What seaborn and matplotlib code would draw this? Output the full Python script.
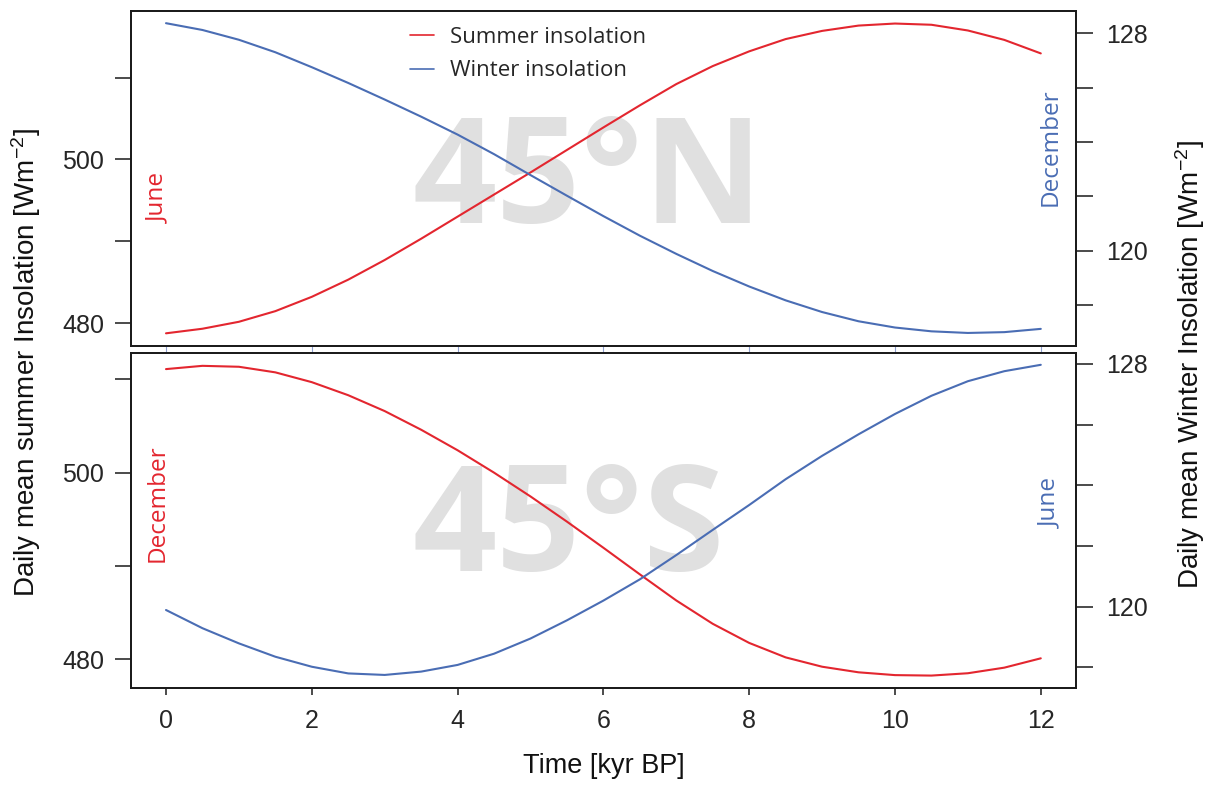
import matplotlib
matplotlib.use("Agg")
import matplotlib.pyplot as plt
import pandas as pd
import seaborn as sns
from matplotlib.lines import Line2D

# ---------------- data ----------------
time_kyr = [0, 0.5, 1, 1.5, 2, 2.5, 3, 3.5, 4, 4.5, 5, 5.5, 6,
            6.5, 7, 7.5, 8, 8.5, 9, 9.5, 10, 10.5, 11, 11.5, 12]

# 45N, June (summer) insolation, left axis
north_summer = [478.74, 479.3, 480.15, 481.45, 483.2, 485.3, 487.7, 490.3, 493.0,
                495.7, 498.4, 501.15, 503.9, 506.6, 509.2, 511.4, 513.2, 514.7,
                515.7, 516.35, 516.6, 516.45, 515.75, 514.6, 512.95]
# 45N, December (winter) insolation, right axis
north_winter = [128.37, 128.12, 127.76, 127.3, 126.75, 126.17, 125.56, 124.93, 124.27,
                123.55, 122.78, 122.02, 121.27, 120.55, 119.88, 119.25, 118.68, 118.17,
                117.74, 117.4, 117.17, 117.03, 116.97, 117.0, 117.12]
# 45S, December (summer) insolation, left axis
south_summer = [511.1, 511.45, 511.35, 510.75, 509.7, 508.3, 506.6, 504.6, 502.4,
                500.0, 497.45, 494.75, 491.95, 489.1, 486.3, 483.8, 481.75, 480.2,
                479.2, 478.6, 478.3, 478.25, 478.5, 479.1, 480.1]
# 45S, June (winter) insolation, right axis
south_winter = [119.89, 119.29, 118.79, 118.35, 118.02, 117.8, 117.75, 117.86, 118.08,
                118.45, 118.95, 119.55, 120.2, 120.9, 121.7, 122.53, 123.35, 124.2,
                124.97, 125.68, 126.35, 126.95, 127.43, 127.76, 127.97]

x_ticks = [0, 2, 4, 6, 8, 10, 12]
x_tick_labels = ["0", "2", "4", "6", "8", "10", "12"]
summer_ticks = [480, 490, 500, 510]
summer_tick_labels = ["480", "", "500", ""]
winter_ticks = [118, 120, 122, 124, 126, 128]
winter_tick_labels = ["", "120", "", "", "", "128"]

legend_labels = ["Summer insolation", "Winter insolation"]
panel_titles = ["45°N", "45°S"]
month_labels_north = ["June", "December"]
month_labels_south = ["December", "June"]
x_label = "Time [kyr BP]"
left_label = r"Daily mean summer Insolation [Wm$\mathregular{^{-2}}$]"
right_label = r"Daily mean Winter Insolation [Wm$\mathregular{^{-2}}$]"

# ---------------- style ----------------
RED = "#e3262f"
BLUE = "#4a6db4"
WATERMARK = "#e0e0e0"
AXC = "#1a1a1a"

sns.set_theme(style="ticks")
plt.rcParams["font.family"] = ["Liberation Sans", "DejaVu Sans"]
plt.rcParams["mathtext.fontset"] = "custom"
plt.rcParams["mathtext.rm"] = "Liberation Sans"
plt.rcParams["mathtext.it"] = "Liberation Sans:italic"
plt.rcParams["mathtext.bf"] = "Liberation Sans:bold"

df = pd.DataFrame({
    "time": time_kyr,
    "north_summer": north_summer,
    "north_winter": north_winter,
    "south_summer": south_summer,
    "south_winter": south_winter,
})

fig = plt.figure(figsize=(12.12, 7.86), dpi=100)
ax1 = fig.add_axes([0.1081, 0.5598, 0.7795, 0.4266])
ax2 = fig.add_axes([0.1081, 0.1247, 0.7795, 0.4266])
ax1r = ax1.twinx()
ax2r = ax2.twinx()

LW = 1.5
sns.lineplot(data=df, x="time", y="north_summer", ax=ax1, color=RED, lw=LW, zorder=3)
sns.lineplot(data=df, x="time", y="north_winter", ax=ax1r, color=BLUE, lw=LW, zorder=3)
sns.lineplot(data=df, x="time", y="south_summer", ax=ax2, color=RED, lw=LW, zorder=3)
sns.lineplot(data=df, x="time", y="south_winter", ax=ax2r, color=BLUE, lw=LW, zorder=3)

for a in (ax1, ax1r, ax2, ax2r):
    a.set_xlim(-0.48, 12.48)
    a.set_xlabel("")
    a.set_ylabel("")
    for s in a.spines.values():
        s.set_visible(True)
        s.set_linewidth(1.3)
        s.set_color(AXC)

ax1.set_ylim(477.19, 518.17)
ax1r.set_ylim(116.49, 128.83)
ax2.set_ylim(476.92, 512.86)
ax2r.set_ylim(117.32, 128.37)

TICK_FS = 18
for a in (ax1, ax2):
    a.set_yticks(summer_ticks)
    a.set_yticklabels(summer_tick_labels)
    a.tick_params(axis="y", which="both", direction="out", length=11.5, width=1.1,
                  color=AXC, pad=8, labelsize=TICK_FS, left=True, right=False)
for a in (ax1r, ax2r):
    a.set_yticks(winter_ticks)
    a.set_yticklabels(winter_tick_labels)
    a.tick_params(axis="y", which="both", direction="out", length=12, width=1.1,
                  color=AXC, pad=10, labelsize=TICK_FS, right=True, left=False)

ax2.set_xticks(x_ticks)
ax2.set_xticklabels(x_tick_labels)
ax2.tick_params(axis="x", direction="out", length=5, width=1.1, color=AXC,
                pad=10, labelsize=TICK_FS, bottom=True, top=False)
ax1.set_xticks(x_ticks)
ax1.tick_params(axis="x", direction="out", length=5, width=0.8, color="#8fa0d0",
                labelbottom=False, bottom=True, top=False)
ax1r.tick_params(axis="x", bottom=False, labelbottom=False)
ax2r.tick_params(axis="x", bottom=False, labelbottom=False)

# watermarks
ax1.text(0.2984, 0.367, panel_titles[0], transform=ax1.transAxes, ha="left",
         va="baseline", fontsize=106, fontweight="bold", family="Open Sans",
         color=WATERMARK, zorder=0)
ax2.text(0.2984, 0.349, panel_titles[1], transform=ax2.transAxes, ha="left",
         va="baseline", fontsize=106, fontweight="bold", family="Open Sans",
         color=WATERMARK, zorder=0)

# month labels
MFS = 17.5
ax1.text(0.0286, 0.441, month_labels_north[0], transform=ax1.transAxes, rotation=90,
         ha="center", va="center", color=RED, fontsize=MFS, family="Open Sans")
ax1r.text(0.9735, 0.5935, month_labels_north[1], transform=ax1r.transAxes, rotation=90,
          ha="center", va="center", color=BLUE, fontsize=MFS, family="Open Sans")
ax2.text(0.0286, 0.552, month_labels_south[0], transform=ax2.transAxes, rotation=90,
         ha="center", va="center", color=RED, fontsize=MFS, family="Open Sans")
ax2r.text(0.9735, 0.552, month_labels_south[1], transform=ax2r.transAxes, rotation=90,
          ha="center", va="center", color=BLUE, fontsize=MFS, family="Open Sans")

# legend
handles = [Line2D([0], [0], color=RED, lw=1.2), Line2D([0], [0], color=BLUE, lw=1.2)]
ax1r.legend(handles=handles, labels=legend_labels, loc="upper left",
            bbox_to_anchor=(0.2952, 0.952), frameon=False,
            prop={"family": "Open Sans", "size": 16},
            handlelength=1.1, handletextpad=0.7, labelspacing=0.57,
            borderaxespad=0, borderpad=0)

# axis labels
LFS = 20
fig.text(26 / 1212, 1 - 362.5 / 786, left_label, rotation=90, ha="center", va="center",
         fontsize=LFS, color="#111111")
fig.text(1190 / 1212, 1 - 365 / 786, right_label, rotation=90, ha="center", va="center",
         fontsize=LFS, color="#111111")
fig.text(603.5 / 1212, 1 - 766 / 786, x_label, ha="center", va="center",
         fontsize=19.5, color="#111111")

fig.savefig("out.png", dpi=100, facecolor="white")
